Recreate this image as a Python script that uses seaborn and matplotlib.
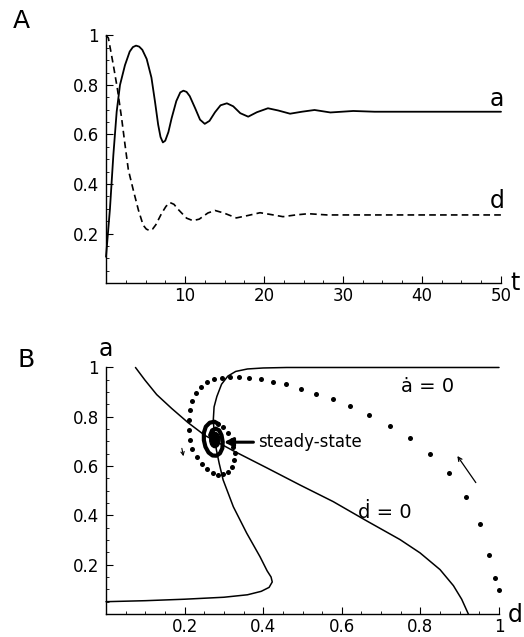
import matplotlib
matplotlib.use("Agg")
import matplotlib.pyplot as plt
import numpy as np
import pandas as pd
import seaborn as sns
from matplotlib.patches import Ellipse
from matplotlib.ticker import MultipleLocator, FixedLocator

# --- Panel A: time courses ------------------------------------------------ #
T_A = [0, 0.5, 0.93, 1.35, 1.77, 2.4, 3.0, 3.4, 3.8, 4.2, 4.6, 5.15, 5.75,
       6.2, 6.6, 6.9, 7.2, 7.5, 7.9, 8.3, 8.9, 9.4, 9.8, 10.2, 10.6, 11.3,
       11.9, 12.5, 13.1, 13.8, 14.5, 15.3, 16.1, 17.0, 18.0, 19.1, 20.5,
       21.8, 23.3, 24.8, 26.4, 28.4, 31.3, 34, 50]
A_VAL = [0.106, 0.30, 0.517, 0.692, 0.80, 0.88, 0.935, 0.953, 0.959, 0.955,
         0.942, 0.905, 0.83, 0.733, 0.64, 0.59, 0.568, 0.575, 0.61, 0.665,
         0.735, 0.77, 0.777, 0.772, 0.755, 0.705, 0.66, 0.643, 0.655, 0.69,
         0.718, 0.726, 0.714, 0.686, 0.672, 0.69, 0.706, 0.697, 0.684, 0.692,
         0.699, 0.689, 0.695, 0.692, 0.692]

T_D = [0, 0.3, 0.93, 1.43, 1.98, 2.4, 2.83, 3.45, 4.1, 4.7, 5.1, 5.5, 5.9,
       6.3, 7.05, 7.6, 8.1, 8.6, 9.15, 10.2, 11.0, 11.8, 12.9, 13.8, 14.9,
       16.5, 18.0, 19.5, 21.0, 22.4, 24.0, 25.6, 28, 50]
D_VAL = [1.0, 0.99, 0.88, 0.787, 0.665, 0.56, 0.457, 0.376, 0.295, 0.234,
         0.218, 0.212, 0.218, 0.235, 0.282, 0.31, 0.325, 0.318, 0.297, 0.262,
         0.252, 0.258, 0.283, 0.293, 0.283, 0.263, 0.273, 0.284, 0.276,
         0.268, 0.275, 0.28, 0.275, 0.275]

# --- Panel B: phase plane ------------------------------------------------- #
# a-dot = 0 nullcline (S-shaped)
ANULL_D = [0.0, 0.1, 0.2, 0.3, 0.36, 0.395, 0.415, 0.423, 0.42, 0.41, 0.392,
           0.358, 0.324, 0.298, 0.288, 0.281, 0.276, 0.273, 0.275, 0.282,
           0.294, 0.31, 0.33, 0.36, 0.4, 0.46, 1.0]
ANULL_A = [0.05, 0.054, 0.06, 0.068, 0.078, 0.092, 0.108, 0.13, 0.15, 0.175,
           0.232, 0.328, 0.435, 0.544, 0.611, 0.665, 0.72, 0.787, 0.84,
           0.882, 0.932, 0.965, 0.984, 0.994, 0.998, 1.0, 1.0]

# d-dot = 0 nullcline
DNULL_D = [0.075, 0.099, 0.129, 0.167, 0.209, 0.252, 0.28, 0.324, 0.409,
           0.494, 0.578, 0.663, 0.748, 0.799, 0.85, 0.884, 0.905, 0.922]
DNULL_A = [1.0, 0.949, 0.89, 0.834, 0.776, 0.724, 0.7, 0.662, 0.593,
           0.523, 0.456, 0.378, 0.302, 0.248, 0.18, 0.115, 0.06, 0.0]

# trajectory samples (dots)
TRAJ_D = [1.0, 0.99, 0.975, 0.951, 0.917, 0.874, 0.825, 0.773, 0.722, 0.669,
          0.621, 0.577, 0.535, 0.495, 0.459, 0.425, 0.394, 0.364, 0.339,
          0.316, 0.294, 0.276, 0.258, 0.241, 0.228, 0.22, 0.214, 0.211,
          0.211, 0.214, 0.22, 0.231, 0.243, 0.256, 0.271, 0.286, 0.298,
          0.311, 0.32, 0.326, 0.328, 0.324, 0.32, 0.311, 0.298, 0.286]
TRAJ_A = [0.097, 0.145, 0.238, 0.365, 0.476, 0.572, 0.649, 0.714, 0.764,
          0.807, 0.844, 0.872, 0.894, 0.913, 0.931, 0.942, 0.952, 0.959,
          0.963, 0.963, 0.957, 0.952, 0.94, 0.922, 0.898, 0.865, 0.828,
          0.787, 0.746, 0.706, 0.668, 0.636, 0.607, 0.587, 0.571, 0.564,
          0.568, 0.577, 0.598, 0.625, 0.652, 0.679, 0.706, 0.733, 0.757,
          0.771]

# tight inner spiral (dots merge into a thick ring)
RING_D = [0.286, 0.276, 0.264, 0.254, 0.249, 0.249, 0.253, 0.261, 0.271,
          0.281, 0.29, 0.296, 0.297, 0.294, 0.288, 0.279, 0.27, 0.265]
RING_A = [0.771, 0.78, 0.776, 0.76, 0.735, 0.705, 0.678, 0.655, 0.643,
          0.642, 0.652, 0.672, 0.698, 0.725, 0.745, 0.752, 0.745, 0.725]

STEADY = (0.277, 0.706)

sns.set_theme(style="ticks")
plt.rcParams.update({
    "font.family": ["DejaVu Sans"],
    "text.color": "black",
    "axes.labelcolor": "black",
    "xtick.labelcolor": "black",
    "ytick.labelcolor": "black",
    "xtick.direction": "in",
    "ytick.direction": "in",
    "xtick.major.size": 5,
    "ytick.major.size": 5,
    "xtick.minor.size": 2.5,
    "ytick.minor.size": 2.5,
    "xtick.major.width": 0.8,
    "ytick.major.width": 0.8,
    "xtick.minor.width": 0.6,
    "ytick.minor.width": 0.6,
    "axes.linewidth": 1.0,
    "axes.edgecolor": "black",
    "xtick.color": "black",
    "ytick.color": "black",
})

fig = plt.figure(figsize=(5.24, 6.37), dpi=100)
ax_a = fig.add_axes([0.2023, 0.5557, 0.7538, 0.3886])
ax_b = fig.add_axes([0.2023, 0.0361, 0.7500, 0.3870])

TICK_FS = 12


def _style_axis(ax, xmajor, xlabels, ymajor, ylabels, xminor, yminor):
    sns.despine(ax=ax)
    ax.xaxis.set_major_locator(FixedLocator(xmajor))
    ax.set_xticklabels(xlabels)
    ax.yaxis.set_major_locator(FixedLocator(ymajor))
    ax.set_yticklabels(ylabels)
    ax.xaxis.set_minor_locator(MultipleLocator(xminor))
    ax.yaxis.set_minor_locator(MultipleLocator(yminor))
    ax.tick_params(axis="y", which="major", labelsize=TICK_FS, pad=5)
    ax.tick_params(axis="x", which="major", labelsize=TICK_FS, pad=3)
    ax.set_xlabel("")
    ax.set_ylabel("")


# --- Panel A ---
df_a = pd.DataFrame({"t": T_A, "v": A_VAL})
df_d = pd.DataFrame({"t": T_D, "v": D_VAL})
sns.lineplot(data=df_a, x="t", y="v", ax=ax_a, color="black", lw=1.3,
             sort=False, estimator=None, clip_on=False)
sns.lineplot(data=df_d, x="t", y="v", ax=ax_a, color="black", lw=1.2,
             sort=False, estimator=None, clip_on=False)
ax_a.lines[-1].set_dashes([4, 2.5])
ax_a.set_xlim(0, 50)
ax_a.set_ylim(0, 1)
_style_axis(ax_a, [10, 20, 30, 40, 50], ["10", "20", "30", "40", "50"],
            [0.2, 0.4, 0.6, 0.8, 1.0], ["0.2", "0.4", "0.6", "0.8", "1"],
            2.5, 0.05)
ax_a.text(49.5, 0.715, "a", ha="center", va="baseline", fontsize=17)
ax_a.text(49.5, 0.302, "d", ha="center", va="baseline", fontsize=17)
ax_a.text(51.8, -0.028, "t", ha="center", va="baseline", fontsize=17,
          clip_on=False)

# --- Panel B ---
sns.lineplot(x=ANULL_D, y=ANULL_A, ax=ax_b, color="black", lw=1.1,
             sort=False, estimator=None, clip_on=False)
sns.lineplot(x=DNULL_D, y=DNULL_A, ax=ax_b, color="black", lw=1.1,
             sort=False, estimator=None, clip_on=False)
sns.scatterplot(x=TRAJ_D, y=TRAJ_A, ax=ax_b, color="black", s=13,
                linewidth=0, clip_on=False)
sns.lineplot(x=RING_D, y=RING_A, ax=ax_b, color="black", lw=3.0,
             sort=False, estimator=None)
ax_b.add_patch(Ellipse(STEADY, width=0.026, height=0.062, color="black"))
ax_b.set_xlim(0, 1)
ax_b.set_ylim(0, 1)
_style_axis(ax_b, [0.2, 0.4, 0.6, 0.8, 1.0], ["0.2", "0.4", "0.6", "0.8", "1"],
            [0.2, 0.4, 0.6, 0.8, 1.0], ["0.2", "0.4", "0.6", "0.8", "1"],
            0.05, 0.05)

ax_b.annotate("steady-state", xy=(0.300, 0.697), xytext=(0.387, 0.697),
              ha="left", va="center", fontsize=12,
              arrowprops=dict(arrowstyle="-|>", lw=2.2, color="black",
                              mutation_scale=13, shrinkA=1, shrinkB=0))
ax_b.annotate("", xy=(0.197, 0.640), xytext=(0.193, 0.672),
              arrowprops=dict(arrowstyle="->", lw=0.8, color="black",
                              mutation_scale=6, shrinkA=0, shrinkB=0))
ax_b.annotate("", xy=(0.894, 0.641), xytext=(0.941, 0.533),
              arrowprops=dict(arrowstyle="->", lw=0.9, color="black",
                              mutation_scale=7, shrinkA=0, shrinkB=0))

ax_b.text(0.817, 0.90, "\u0227 = 0", ha="center", va="baseline", fontsize=14)
ax_b.text(0.71, 0.389, "\u1e0b = 0", ha="center", va="baseline", fontsize=14)
ax_b.text(0.0, 1.047, "a", ha="center", va="baseline", fontsize=17,
          clip_on=False)
ax_b.text(1.041, -0.031, "d", ha="center", va="baseline", fontsize=17,
          clip_on=False)

fig.text(13 / 524, 1 - 28 / 637, "A", fontsize=18, va="baseline")
fig.text(17 / 524, 1 - 367 / 637, "B", fontsize=18, va="baseline")

fig.savefig("out.png", dpi=100)
